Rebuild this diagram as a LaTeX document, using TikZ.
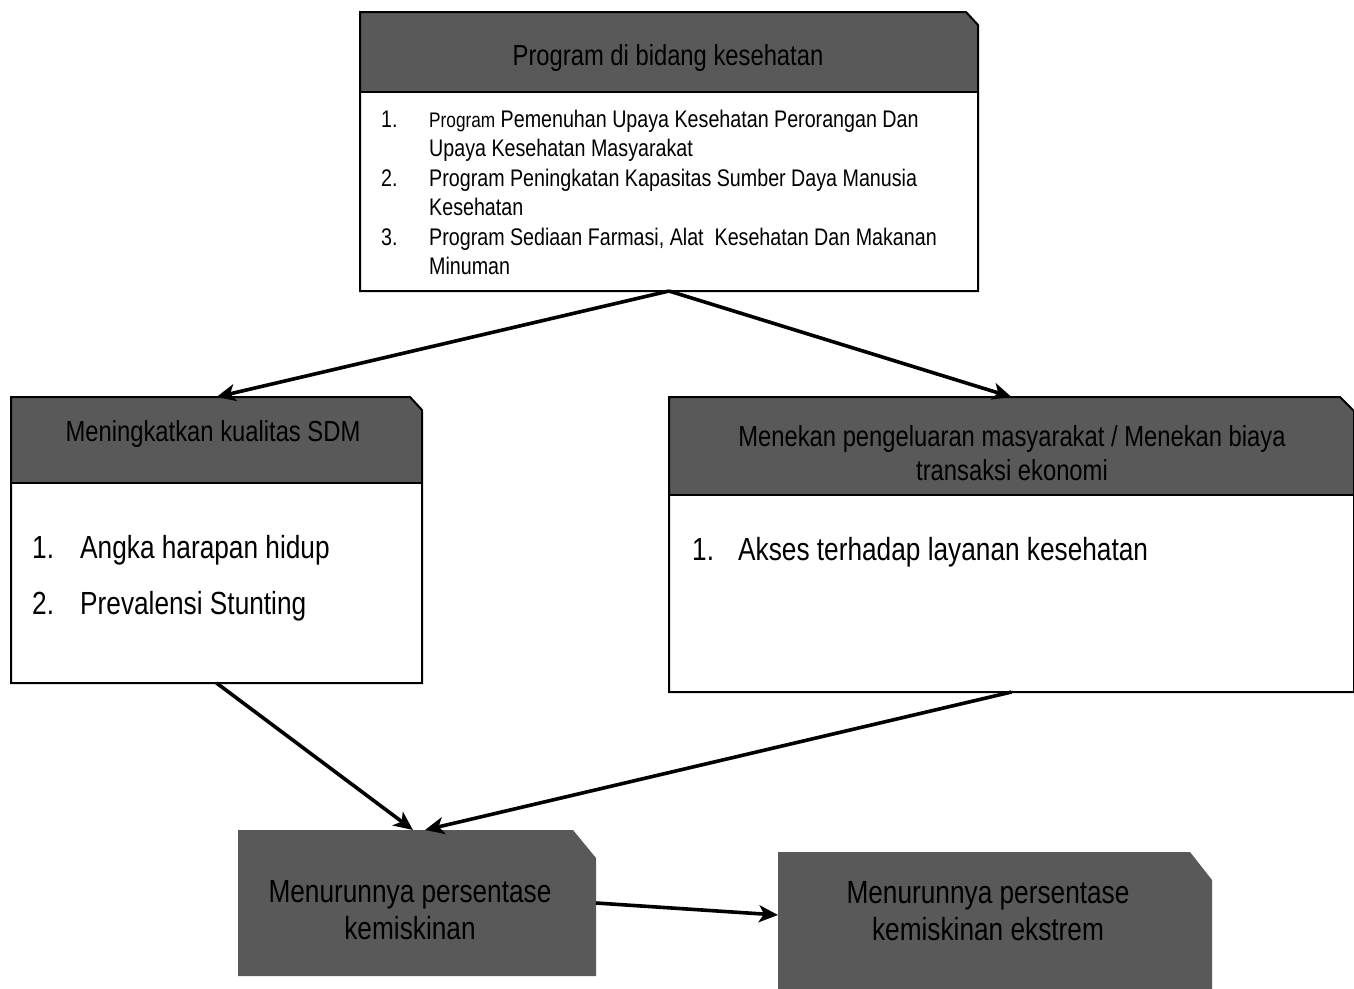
\documentclass[tikz,border=0pt]{standalone}
\usepackage{fontspec}
\setmainfont{Liberation Sans}[FakeStretch=0.82]
\usetikzlibrary{arrows.meta}
\definecolor{hdr}{HTML}{595959}
\tikzset{
  area/.style={draw=none, inner sep=0pt, outer sep=0pt, shape=rectangle},
  conn/.style={line width=3.6pt, -{Stealth[length=19pt,width=17pt,inset=5pt]}},
  outline/.style={line width=2pt, line join=miter},
  hdrtxt/.style={font=\fontsize{29}{34}\selectfont, align=center, inner sep=0pt},
  listtxt/.style={font=\fontsize{24}{28}\selectfont, anchor=base west, inner sep=0pt},
  bigtxt/.style={font=\fontsize{32}{37}\selectfont, anchor=base west, inner sep=0pt},
  bottxt/.style={font=\fontsize{32}{37}\selectfont, align=center, inner sep=0pt},
}
\begin{document}
\begin{tikzpicture}[x=1pt,y=-1pt]
\useasboundingbox (0,0) rectangle (1354,988);

% ---------- top box ----------
\fill[hdr] (360,12) -- (966,12) -- (978,25) -- (978,92) -- (360,92) -- cycle;
\draw[outline] (360,12) -- (966,12) -- (978,25) -- (978,291) -- (360,291) -- cycle;
\draw[outline] (360,92) -- (978,92);
\node[area, minimum width=618pt, minimum height=279pt] (prog) at (669,151.5) {};
\node[hdrtxt] (progh) at (668,58) {Program di bidang kesehatan};
\node[listtxt] (p1n) at (381,127) {1.};
\node[listtxt] (p1a) at (429,127) {{\fontsize{21}{24}\selectfont Program} Pemenuhan Upaya Kesehatan Perorangan Dan};
\node[listtxt] (p1b) at (429,156.5) {Upaya Kesehatan Masyarakat};
\node[listtxt] (p2n) at (381,186) {2.};
\node[listtxt] (p2a) at (429,186) {Program Peningkatan Kapasitas Sumber Daya Manusia};
\node[listtxt] (p2b) at (429,215.5) {Kesehatan};
\node[listtxt] (p3n) at (381,245) {3.};
\node[listtxt] (p3a) at (429,245) {Program Sediaan Farmasi, Alat\ \ Kesehatan Dan Makanan};
\node[listtxt] (p3b) at (429,274.5) {Minuman};

% ---------- left box ----------
\fill[hdr] (11,397) -- (410,397) -- (422,410) -- (422,483) -- (11,483) -- cycle;
\draw[outline] (11,397) -- (410,397) -- (422,410) -- (422,683) -- (11,683) -- cycle;
\draw[outline] (11,483) -- (422,483);
\node[area, minimum width=411pt, minimum height=286pt] (sdm) at (216.5,540) {};
\node[hdrtxt] (sdmh) at (213,434) {Meningkatkan kualitas SDM};
\node[bigtxt] (s1n) at (32,558) {1.};
\node[bigtxt] (s1a) at (80,558) {Angka harapan hidup};
\node[bigtxt] (s2n) at (32,614) {2.};
\node[bigtxt] (s2a) at (80,614) {Prevalensi Stunting};

% ---------- right box ----------
\fill[hdr] (669,397) -- (1340,397) -- (1354,411) -- (1354,495) -- (669,495) -- cycle;
\draw[outline] (669,397) -- (1340,397) -- (1354,411) -- (1354,692) -- (669,692) -- cycle;
\draw[outline] (669,495) -- (1354,495);
\node[area, minimum width=685pt, minimum height=295pt] (ekon) at (1011.5,544.5) {};
\node[hdrtxt] (ekonh) at (1012,453) {Menekan pengeluaran masyarakat / Menekan biaya\\transaksi ekonomi};
\node[bigtxt] (e1n) at (692,560) {1.};
\node[bigtxt] (e1a) at (738,560) {Akses terhadap layanan kesehatan};

% ---------- bottom boxes ----------
\fill[hdr] (238,830) -- (573,830) -- (596,858) -- (596,976) -- (238,976) -- cycle;
\node[area, minimum width=358pt, minimum height=146pt] (kem) at (417,903) {};
\node[bottxt] (kemt) at (410,910) {Menurunnya persentase\\kemiskinan};

\fill[hdr] (778,852) -- (1190,852) -- (1212,880) -- (1212,990) -- (778,990) -- cycle;
\node[area, minimum width=434pt, minimum height=136pt] (ext) at (995,920) {};
\node[bottxt] (extt) at (988,911) {Menurunnya persentase\\kemiskinan ekstrem};

% ---------- connectors ----------
\draw[conn] (prog.south) -- (sdm.north);
\draw[conn] (prog.south) -- (ekon.north);
\draw[conn] (sdm.south) -- ([xshift=-4pt]kem.north);
\draw[conn] (ekon.south) -- ([xshift=8pt]kem.north);
\draw[conn] (kem.east) -- ([yshift=5pt]ext.west);
\end{tikzpicture}
\end{document}
